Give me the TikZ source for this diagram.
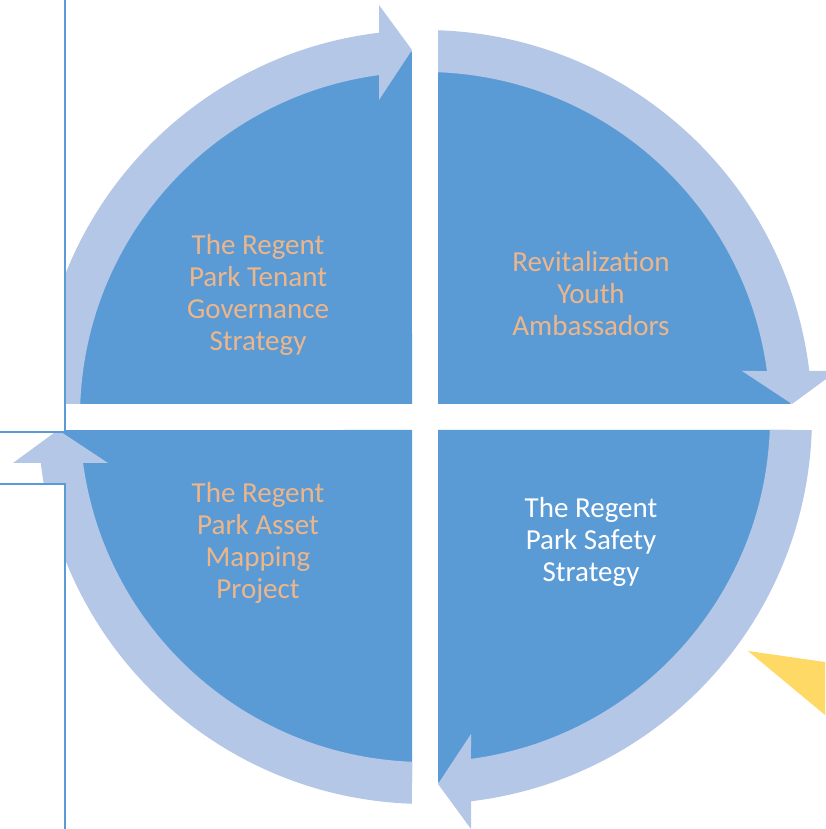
\documentclass[tikz,border=0pt]{standalone}
\usepackage{fontspec}
\setmainfont{Carlito}
\definecolor{segblue}{HTML}{5B9BD5}
\definecolor{bandblue}{HTML}{B4C7E7}
\definecolor{labeltan}{HTML}{EDB68A}
\definecolor{flagyellow}{HTML}{FFD966}
\tikzset{
  segment/.style={fill=segblue},
  band/.style={fill=bandblue},
  frameline/.style={draw=segblue,line width=2pt},
  segtext/.style={align=center,inner sep=0pt,font=\fontsize{29}{32}\selectfont}
}
\begin{document}
\begin{tikzpicture}[x=1pt,y=1pt]
      \useasboundingbox (0,0) rectangle (825,829);

      \coordinate (c) at (425,412);

      % quarter segments
      \foreach \r in {0,90,180,270}
        \fill[segment,shift={(c)},rotate=\r] (13,13) -- (13,365.77)
          arc[start angle=87.96,end angle=2.04,radius=366pt] -- cycle;

      % cycle arrows
      \foreach \r in {0,-90,-180,-270}
        \fill[band,shift={(c)},rotate=\r] (-344.75,13)
          arc[start angle=177.84,end angle=97.66,radius=345pt]
          -- (-46,317) -- (-13,367) -- (-46,412) -- (-46,384.26)
          arc[start angle=96.83,end angle=178.07,radius=387pt] -- cycle;

      % page frame on the left
      \fill[white] (0,397) rectangle (65,829);
      \fill[white] (0,0) rectangle (65,345);
      \draw[frameline] (65,829) -- (65,397) -- (0,397);
      \draw[frameline] (0,345) -- (65,345) -- (65,0);

      \fill[flagyellow] (748,178) -- (825,167) -- (825,114) -- cycle;

      \begin{scope}[every node/.style={segtext,text=labeltan}]
        \node (tenant) at (258,534) {The Regent\\Park Tenant\\Governance\\Strategy};
        \node (youth)  at (591,535) {Revitalization\\Youth\\Ambassadors};
        \node (asset)  at (258,286) {The Regent\\Park Asset\\Mapping\\Project};
        \node[text=white] (safety) at (591,287) {The Regent\\Park Safety\\Strategy};
      \end{scope}

    \end{tikzpicture}
\end{document}
